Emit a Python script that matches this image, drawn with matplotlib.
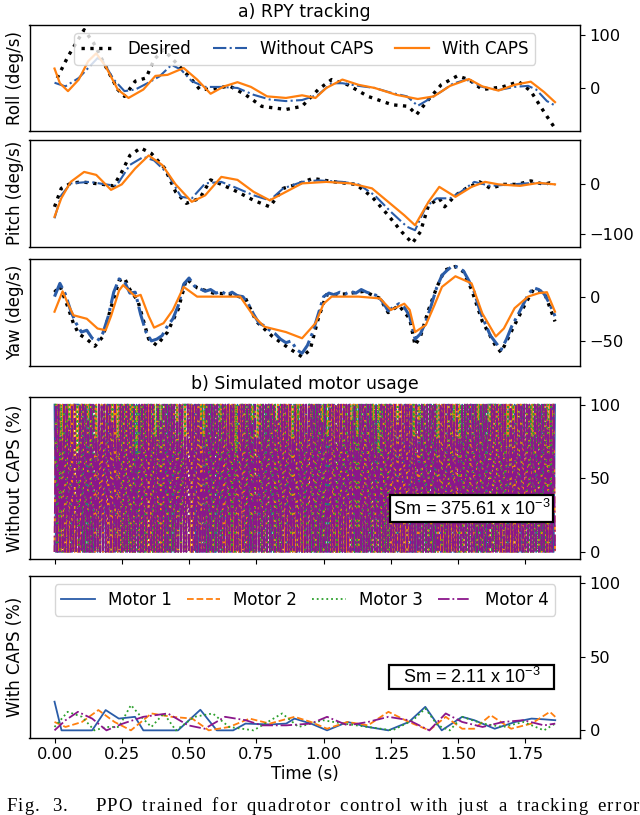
import numpy as np
import matplotlib
matplotlib.use('Agg')
import matplotlib.pyplot as plt
from matplotlib.patches import Rectangle

plt.rcParams['font.family'] = ['DejaVu Sans']
plt.rcParams['font.size'] = 12
plt.rcParams['axes.linewidth'] = 1.0
plt.rcParams['mathtext.fontset'] = 'custom'
plt.rcParams['mathtext.rm'] = 'Liberation Sans'
plt.rcParams['mathtext.default'] = 'regular'

# ---------------- data ----------------
C_DES = 'black'
C_WO = '#2a5ca8'
C_W = '#ff7f0e'
C_M = ['#2a5ca8', '#ff7f0e', '#2ca02c', '#8b168b']

# Roll (deg/s)
roll_des_t = [0.01, 0.05, 0.11, 0.145, 0.19, 0.235, 0.26, 0.30, 0.34, 0.37, 0.405, 0.465, 0.51, 0.54,
              0.59, 0.65, 0.71, 0.77, 0.86, 0.92, 0.98, 1.03, 1.09, 1.165, 1.255, 1.315, 1.345, 1.39,
              1.437, 1.497, 1.54, 1.59, 1.665, 1.725, 1.77, 1.806, 1.83, 1.855]
roll_des = [19, 60, 111, 86, 41, -3, -16, 13, 19, 54, 73, 41, 16, -3,
            -2, 4, -13, -35, -41, -35, -3, 16, 6, -16, -32, -35, -51, -22,
            6, 23, 16, -3, 2, 12, -6, -35, -54, -73]
roll_wo_t = [0.0, 0.04, 0.09, 0.125, 0.16, 0.18, 0.22, 0.26, 0.30, 0.345, 0.39, 0.435, 0.47, 0.51,
             0.56, 0.62, 0.68, 0.74, 0.80, 0.86, 0.92, 0.98, 1.03, 1.07, 1.13, 1.19, 1.25, 1.31,
             1.35, 1.39, 1.44, 1.48, 1.53, 1.59, 1.65, 1.71, 1.76, 1.79, 1.83, 1.855]
roll_wo = [10, 3, 19, 38, 57, 51, 16, -6, -3, 9, 22, 44, 35, 13,
           2, 2, 0, -13, -22, -25, -23, -13, 9, 9, 4, 0, -9, -16,
           -34, -22, -6, 8, 16, 2, -4, 2, 4, -3, -25, -32]
roll_w_t = [0.0, 0.02, 0.05, 0.09, 0.125, 0.155, 0.19, 0.235, 0.275, 0.33, 0.375, 0.42, 0.48, 0.53,
            0.58, 0.63, 0.68, 0.73, 0.79, 0.86, 0.92, 0.97, 1.01, 1.07, 1.13, 1.19, 1.27, 1.35,
            1.41, 1.47, 1.54, 1.59, 1.65, 1.71, 1.77, 1.82, 1.86]
roll_w = [37, 9, -6, 16, 51, 66, 41, -3, -19, -3, 23, 25, 38, 16,
          -11, 3, 11, 2, -16, -19, -14, -19, 0, 16, 6, 0, -13, -21,
          -16, 4, 17, 3, -5, 6, 12, -8, -27]

# Pitch (deg/s)
pitch_des_t = [0.0, 0.025, 0.06, 0.10, 0.18, 0.22, 0.25, 0.28, 0.32, 0.36, 0.41, 0.45, 0.49, 0.54,
               0.58, 0.62, 0.68, 0.74, 0.80, 0.85, 0.90, 0.96, 1.04, 1.12, 1.18, 1.24, 1.29, 1.33,
               1.36, 1.39, 1.43, 1.45, 1.49, 1.53, 1.58, 1.62, 1.67, 1.72, 1.77, 1.82, 1.84, 1.86]
pitch_des = [-45, -8, 2, 5, 0, -3, 25, 58, 73, 62, 32, -15, -38, -28,
             9, 0, -15, -32, -45, -8, 0, 12, 5, 0, -25, -62, -95, -118,
             -95, -42, -28, -45, -22, -8, 5, -8, 0, 0, 7, 0, 3, 0]
pitch_wo_t = [0.0, 0.025, 0.06, 0.13, 0.19, 0.23, 0.28, 0.33, 0.37, 0.42, 0.47, 0.51, 0.56, 0.62,
              0.68, 0.74, 0.80, 0.85, 0.92, 0.98, 1.07, 1.13, 1.19, 1.25, 1.31, 1.34, 1.38, 1.42,
              1.47, 1.51, 1.56, 1.62, 1.70, 1.78, 1.86]
pitch_wo = [-68, -22, 2, 5, 0, -3, 39, 55, 48, 22, -25, -28, 2, 5,
            -8, -22, -32, -8, 5, 8, 5, 0, -22, -55, -85, -92, -45, -28,
            -28, -15, 5, -3, 0, 3, 0]
pitch_w_t = [0.0, 0.025, 0.06, 0.11, 0.155, 0.21, 0.25, 0.30, 0.35, 0.40, 0.45, 0.51, 0.56, 0.62,
             0.68, 0.74, 0.80, 0.86, 0.92, 1.01, 1.10, 1.18, 1.24, 1.30, 1.34, 1.39, 1.43, 1.49,
             1.55, 1.60, 1.65, 1.73, 1.80, 1.86]
pitch_w = [-65, -28, 5, 25, 19, -11, 0, 32, 58, 39, 0, -35, -22, 15,
           9, -15, -32, -15, 2, 5, 2, -8, -35, -62, -82, -35, -5, -25,
           -5, 5, 0, -3, 3, 0]

# Yaw (deg/s)
yaw_des_t = [0.0, 0.02, 0.05, 0.07, 0.09, 0.12, 0.15, 0.18, 0.21, 0.24, 0.26, 0.28, 0.31, 0.35,
             0.38, 0.42, 0.46, 0.49, 0.53, 0.59, 0.65, 0.71, 0.75, 0.81, 0.87, 0.92, 0.95, 0.98,
             1.01, 1.08, 1.15, 1.21, 1.24, 1.28, 1.32, 1.34, 1.36, 1.39, 1.42, 1.45, 1.49, 1.52,
             1.55, 1.59, 1.64, 1.66, 1.70, 1.75, 1.78, 1.82, 1.86]
yaw_des = [5, 12, -12, -30, -42, -48, -56, -45, -12, 18, 21, 8, -5, -48,
           -55, -40, -14, 20, 10, 4, 3, -2, -28, -45, -58, -68, -60, -25,
           2, 3, 6, -2, -18, -10, -25, -55, -45, -15, 10, 30, 34, 28,
           8, -28, -56, -63, -38, -8, 8, 5, -28]
# Without CAPS yaw is noisy: read every 0.02 s
YAW_WO_DT = 0.02
yaw_wo = [0, 15, 3, -16, -30, -40, -38, -47, -50, -41, -22, 5, 20, 17, 4, 5,
          -20, -40, -50, -48, -44, -33, -25, -10, 14, 21, 12, 9, 6, 8, 4, 6,
          2, 5, 1, 0, -8, -20, -30, -33, -38, -42, -48, -52, -50, -60, -64, -55,
          -40, -20, 0, 4, 2, 5, 3, 6, 4, 8, 5, 3, 1, -6, -16, -12,
          -8, -12, -22, -48, -42, -28, -10, 10, 24, 30, 35, 33, 29, 18, 5, -15,
          -30, -44, -52, -60, -48, -33, -22, -10, 2, 10, 8, 3, -8, -22]
yaw_w_t = [0.0, 0.03, 0.05, 0.07, 0.12, 0.16, 0.19, 0.21, 0.24, 0.255, 0.28, 0.30, 0.32, 0.35,
           0.37, 0.405, 0.44, 0.48, 0.53, 0.65, 0.69, 0.74, 0.78, 0.86, 0.92, 0.97, 1.00, 1.03,
           1.13, 1.21, 1.25, 1.30, 1.32, 1.34, 1.38, 1.41, 1.44, 1.49, 1.52, 1.55, 1.59, 1.64,
           1.67, 1.71, 1.76, 1.80, 1.83, 1.86]
yaw_w = [-17, 6, -8, -21, -25, -36, -38, -22, 7, 13, 6, 0, 2, -22,
         -35, -30, -15, 11, 0, 0, 0, -22, -34, -40, -47, -30, -8, 0,
         0, -2, -15, -8, -15, -40, -32, -11, 11, 23, 19, 15, -19, -45,
         -36, -13, 0, 4, 5, -17]

# Motor usage without CAPS: one digit per 0.005 s step, digit d -> d/9 * 100 %
MOTOR_DT = 0.005
motor_wo_codes = [
    "9090909090 9090999990 9090909090 0909090909 9090909090 9090990909 0909090909 9090909090 9090909090 "
    "0909099999 9990909090 9090909090 0909090909 9090909090 9090909090 0909090909 9090909090 9090909090 "
    "0909090909 9090909090 9090909090 0909090909 9090909090 9090909909 0909090909 9090909090 9090909090 "
    "0909090909 9090909090 9090909090 0909090909 9090909090 9099999990 9090909090 9090909090 0909090909 "
    "9090909090 909",
    "0990909090 9090909090 9909090909 0909090990 9090909090 9090909090 0990909090 9090909090 9099090909 "
    "0909090909 9090990909 0909090909 0909909090 9090909090 9090990909 0909090909 0990909090 9090909090 "
    "9090909909 0909090909 0909909090 9090909090 9099090909 0909090909 0990909090 9090909090 9090990909 "
    "0909090909 0909909090 9090909090 9909090909 0909090909 0990909090 9090909090 9090909909 0909090909 "
    "0909909090 990",
    "9909090909 0909090909 9090909090 9909090909 0909090990 9090909090 9090909090 0990909090 9090909090 "
    "9909090909 0909090909 9090909090 9090909909 0909090909 9090909090 0990909090 9090909090 9909090909 "
    "0909090909 9090909090 9090909909 0909090909 9090909090 0990909090 9090909090 9909090909 0909090909 "
    "9090909090 9090909909 0909090909 9090909090 0990909090 9090909090 9909090909 0909090909 9090909090 "
    "9090909909 099",
    "0909070909 0809090609 0909080909 0709090909 0908090709 0909090809 0609090909 0909070908 0909090909 "
    "0809090709 0909090908 0709090909 0908090909 0909060909 0909090809 0709090909 0909080909 0909090709 "
    "0809090909 0909090908 0907090909 0909090909 0809070909 0909090809 0609090909 0909080909 0909090709 "
    "0809090909 0909070909 0909090809 0709090909 0909080909 0908090909 0909090709 0809090909 0909070909 "
    "0909090809 090",
]

# Motor usage with CAPS (%)
m1_t = [0, 0.026, 0.14, 0.19, 0.239, 0.299, 0.33, 0.459, 0.542, 0.603, 0.664, 0.71, 0.80, 0.861, 0.892,
        0.953, 1.013, 1.089, 1.165, 1.241, 1.317, 1.378, 1.439, 1.515, 1.56, 1.636, 1.712, 1.773, 1.819, 1.861]
m1 = [19.5, 0, 0, 13.8, 8, 9.2, 0, 0, 14, 0, 0, 4.6, 4, 4.6, 8,
      4.6, 0, 5.7, 2.3, 0, 5.7, 16, 0, 9.2, 6.9, 1.1, 5.7, 8, 7.5, 6.9]
m2_t = [0, 0.041, 0.102, 0.163, 0.223, 0.284, 0.36, 0.436, 0.512, 0.573, 0.649, 0.725, 0.8, 0.892, 0.953,
        1.013, 1.089, 1.165, 1.241, 1.317, 1.393, 1.454, 1.515, 1.56, 1.621, 1.697, 1.773, 1.841, 1.861]
m2 = [5.7, 2.3, 5.7, 13.8, 5.7, 0, 11.5, 9.2, 8, 0, 2.3, 8, 4.6, 9.2, 5.7,
      1.1, 5.7, 3.4, 12.6, 5.7, 0, 9.2, 1.1, 1.1, 10.3, 1.1, 4.6, 12.6, 9.2]
m3_t = [0, 0.049, 0.102, 0.148, 0.193, 0.239, 0.284, 0.322, 0.36, 0.406, 0.451, 0.52, 0.588, 0.649, 0.74,
        0.846, 0.907, 0.998, 1.074, 1.165, 1.256, 1.332, 1.378, 1.424, 1.469, 1.515, 1.591, 1.667, 1.743,
        1.819, 1.861]
m3 = [2.3, 12.6, 9.2, 0, 2.3, 2.3, 17.2, 9.2, 2.3, 11.5, 0, 9.2, 11.5, 2.3, 0,
      11.5, 2.3, 6.9, 4.6, 2.3, 0, 6.9, 14.9, 3.4, 0, 9.2, 4.6, 2.3, 5.7,
      0, 4.6]
m4_t = [0, 0.041, 0.087, 0.14, 0.193, 0.254, 0.33, 0.421, 0.497, 0.558, 0.634, 0.71, 0.77, 0.861,
        0.953, 1.013, 1.089, 1.165, 1.241, 1.317, 1.393, 1.454, 1.515, 1.591, 1.667, 1.743, 1.819, 1.861]
m4 = [0, 6.9, 12.6, 8, 0, 4.6, 9.2, 11.5, 3.4, 1.1, 9.2, 6.9, 3.4, 3.4,
      4.6, 9.2, 3.4, 5.7, 9.2, 6.9, 0, 11.5, 5.7, 2.3, 5.7, 6.9, 3.4, 4.6]

motor_labels = ['Motor 1', 'Motor 2', 'Motor 3', 'Motor 4']
motor_styles = ['-', '--', ':', '-.']
series_labels = ['Desired', 'Without CAPS', 'With CAPS']
sm_without = 'Sm = 375.61 x 10$^{-3}$'
sm_with = 'Sm = 2.11 x 10$^{-3}$'
x_ticks = [0.0, 0.25, 0.5, 0.75, 1.0, 1.25, 1.5, 1.75]
caption_head = ['Fig.', '3.']
caption_body = 'PPO trained for quadrotor control with just a tracking error'

# ---------------- figure ----------------
W, H = 640, 815
fig = plt.figure(figsize=(W / 100, H / 100), dpi=100)
fig.patch.set_facecolor('white')

def box(top, bottom, left=29.5, right=580):
    return [left / W, (H - bottom) / H, (right - left) / W, (bottom - top) / H]

ax_r = fig.add_axes(box(25, 131))
ax_p = fig.add_axes(box(140, 246.7))
ax_y = fig.add_axes(box(259, 365.7))
ax_wo = fig.add_axes(box(397.3, 559.3))
ax_w = fig.add_axes(box(576, 737.7))

TICK_FS = 11.7
LAB_FS = 12

def style_right(ax):
    ax.yaxis.tick_right()
    ax.yaxis.set_label_position('left')
    ax.tick_params(axis='both', labelsize=TICK_FS)

yaw_wo_t = np.arange(len(yaw_wo)) * YAW_WO_DT
rpy = [
    (ax_r, roll_des_t, roll_des, roll_wo_t, roll_wo, roll_w_t, roll_w, 'Roll (deg/s)', [0, 100], (-82, 120), 1.5),
    (ax_p, pitch_des_t, pitch_des, pitch_wo_t, pitch_wo, pitch_w_t, pitch_w, 'Pitch (deg/s)', [-100, 0], (-125, 89), 1.5),
    (ax_y, yaw_des_t, yaw_des, yaw_wo_t, yaw_wo, yaw_w_t, yaw_w, 'Yaw (deg/s)', [-50, 0], (-78, 42.5), 2.2),
]
for ax, dt_, dv, wot, wov, wt, wv, lab, yt, yl, lwo in rpy:
    ax.plot(dt_, dv, color=C_DES, linestyle=':', lw=2.4, label=series_labels[0])
    ax.plot(wot, wov, color=C_WO, linestyle='-.', lw=lwo, label=series_labels[1])
    ax.plot(wt, wv, color=C_W, linestyle='-', lw=1.6, label=series_labels[2])
    style_right(ax)
    ax.set_ylabel(lab, fontsize=LAB_FS)
    ax.set_yticks(yt)
    ax.set_ylim(*yl)
    ax.set_xlim(-0.093, 1.953)
    ax.tick_params(axis='x', bottom=False, labelbottom=False)

ax_r.set_title('a) RPY tracking', fontsize=12.5, pad=6)
ax_r.legend(loc='upper center', ncol=3, fontsize=LAB_FS, handlelength=2.0,
            columnspacing=1.3, borderaxespad=0.5)

def sm_box(ax, text, x0, x1, y0, y1):
    ax.add_patch(Rectangle((x0, y0), x1 - x0, y1 - y0, transform=ax.transAxes,
                           facecolor='white', edgecolor='black', lw=1.6, zorder=5))
    ax.text((x0 + x1) / 2, (y0 + y1) / 2, text, transform=ax.transAxes, ha='center',
            va='center', fontsize=13, family='Liberation Sans', zorder=6)

# motors without CAPS
for i, code in enumerate(motor_wo_codes):
    digits = "".join(code.split())
    vals = [int(c) / 9 * 100 for c in digits]
    tt = np.arange(len(vals)) * MOTOR_DT
    ax_wo.plot(tt, vals, color=C_M[i], linestyle=motor_styles[i], lw=1.3)
style_right(ax_wo)
ax_wo.set_ylabel('Without CAPS (%)', fontsize=LAB_FS)
ax_wo.set_yticks([0, 50, 100])
ax_wo.set_ylim(-5, 105)
ax_wo.set_xlim(-0.093, 1.953)
ax_wo.set_xticks(x_ticks)
ax_wo.tick_params(axis='x', labelbottom=False)
ax_wo.set_title('b) Simulated motor usage', fontsize=12.5, pad=6)
sm_box(ax_wo, sm_without, 0.655, 0.951, 0.230, 0.397)

# motors with CAPS
for i, (tt, vv) in enumerate([(m1_t, m1), (m2_t, m2), (m3_t, m3), (m4_t, m4)]):
    ax_w.plot(tt, vv, color=C_M[i], linestyle=motor_styles[i], lw=1.3, label=motor_labels[i])
style_right(ax_w)
ax_w.set_ylabel('With CAPS (%)', fontsize=LAB_FS)
ax_w.set_yticks([0, 50, 100])
ax_w.set_ylim(-5, 105)
ax_w.set_xlim(-0.093, 1.953)
ax_w.set_xticks(x_ticks)
ax_w.set_xlabel('Time (s)', labelpad=2, fontsize=LAB_FS)
ax_w.legend(loc='upper center', ncol=4, fontsize=LAB_FS, handlelength=2.0,
            columnspacing=0.9, borderaxespad=0.5)
sm_box(ax_w, sm_with, 0.653, 0.953, 0.301, 0.450)

# caption: justified, slightly letter-spaced serif line (clipped at the bottom)
cap_fs = 13.5
track = 1.3
base_y = 4.0 / H
renderer = fig.canvas.get_renderer()
_probe = fig.text(0, 0, '', family='Liberation Serif', fontsize=cap_fs)
_adv = {}

def advance(ch):
    if ch not in _adv:
        _probe.set_text('x' + ch + 'x')
        a = _probe.get_window_extent(renderer).width
        _probe.set_text('xx')
        b = _probe.get_window_extent(renderer).width
        _adv[ch] = a - b
    return _adv[ch]

def word_width(word):
    return sum(advance(c) for c in word) + track * (len(word) - 1)

def place_word(word, x_start):
    x = x_start
    for ch in word:
        fig.text(x / W, base_y, ch, family='Liberation Serif', fontsize=cap_fs, va='baseline')
        x += advance(ch) + track

place_word(caption_head[0], 6.0)
place_word(caption_head[1], 52.0)
words = caption_body.split()
widths = [word_width(w_) for w_ in words]
x0, x1 = 95.0, 639.0
gap = (x1 - x0 - sum(widths)) / (len(words) - 1)
xp = x0
for w_, wd in zip(words, widths):
    place_word(w_, xp)
    xp += wd + gap
_probe.remove()

fig.savefig('out.png', dpi=100, facecolor='white')
